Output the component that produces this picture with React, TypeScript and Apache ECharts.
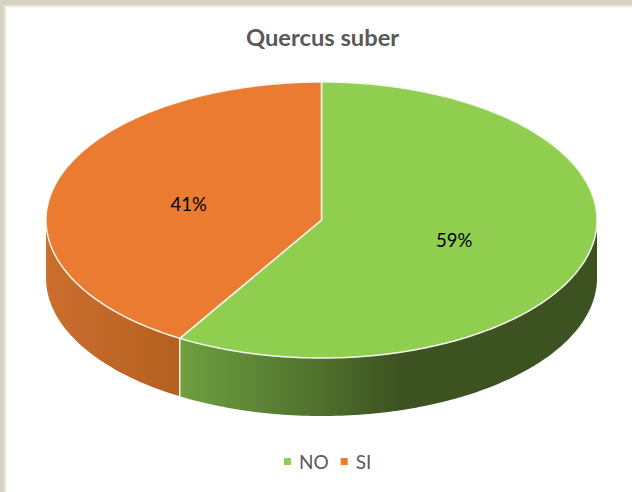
import React, { useEffect, useRef } from "react";
import * as echarts from "echarts";

const chartTitle = "Quercus suber";
const categories = ["NO", "SI"];
const sliceValues = [58.6, 41.4];
const topColors = ["#8FCE4F", "#EB7B30"];
const wallStops = [
  [
    { at: 180, color: "#6E9F40" },
    { at: 320, color: "#50702D" },
    { at: 400, color: "#3C5221" },
    { at: 597, color: "#3C5221" },
  ],
  [
    { at: 46, color: "#CB6E2E" },
    { at: 180, color: "#B46020" },
  ],
];

const CX = 321.5;
const CY = 220;
const RX = 275.5;
const RY = 138;
const DEPTH = 58;

const total = sliceValues.reduce((a, b) => a + b, 0);
const pointAt = (deg: number, dy = 0, k = 1): number[] => {
  const r = (deg * Math.PI) / 180;
  return [CX + RX * k * Math.sin(r), CY - RY * k * Math.cos(r) + dy];
};
const arc = (from: number, to: number, dy = 0): number[][] => {
  const out: number[][] = [];
  const n = Math.max(1, Math.ceil(to - from));
  for (let i = 0; i <= n; i++) out.push(pointAt(from + ((to - from) * i) / n, dy));
  return out;
};

const makeSeries = (index: number) => {
  const before = sliceValues.slice(0, index).reduce((a, b) => a + b, 0);
  const start = (before / total) * 360;
  const end = ((before + sliceValues[index]) / total) * 360;
  const mid = (start + end) / 2;
  return {
    type: "custom",
    name: categories[index],
    coordinateSystem: "none",
    itemStyle: { color: topColors[index] },
    data: [{ name: categories[index], value: sliceValues[index] }],
    silent: true,
    renderItem: () => {
      const children: any[] = [];
      const wallFrom = Math.max(start, 90);
      const wallTo = Math.min(end, 270);
      if (wallTo > wallFrom) {
        const stops = wallStops[index];
        const x0 = stops[0].at;
        const x1 = stops[stops.length - 1].at;
        children.push({
          type: "polygon",
          shape: { points: [...arc(wallFrom, wallTo), ...arc(wallFrom, wallTo, DEPTH).reverse()] },
          style: {
            fill: new echarts.graphic.LinearGradient(
              x0, 0, x1, 0,
              stops.map((s) => ({ offset: (s.at - x0) / (x1 - x0), color: s.color })),
              true
            ),
          },
        });
      }
      if (start > 90 && start < 270) {
        const a = pointAt(start);
        children.push({
          type: "line",
          z2: 5,
          shape: { x1: a[0], y1: a[1], x2: a[0], y2: a[1] + DEPTH },
          style: { stroke: "#F2F2EC", lineWidth: 1.5 },
        });
      }
      children.push({
        type: "polygon",
        z2: 6,
        shape: { points: [[CX, CY], ...arc(start, end)] },
        style: { fill: topColors[index], stroke: "#F4F6EE", lineWidth: 1.5, lineJoin: "round" },
      });
      const lp = pointAt(mid, 2, 0.5);
      children.push({
        type: "text",
        z2: 7,
        x: lp[0],
        y: lp[1],
        style: {
          text: `${Math.round((sliceValues[index] / total) * 100)}%`,
          fill: "#000000",
          font: "18.5px Lato",
          align: "center",
          verticalAlign: "middle",
        },
      });
      return { type: "group", children };
    },
  };
};

export default function App() {
  const ref = useRef<HTMLDivElement>(null);
  useEffect(() => {
    const chart = echarts.init(ref.current!, null, { renderer: "svg" });
    chart.setOption({
      animation: false,
      backgroundColor: "#D6D3C2",
      title: {
        text: chartTitle,
        left: 241,
        top: 20,
        textStyle: { fontFamily: "Lato", fontSize: 23.7, fontWeight: "bold", color: "#595959" },
      },
      legend: {
        data: categories,
        left: 279,
        top: 447,
        icon: "rect",
        itemWidth: 7,
        itemHeight: 7,
        itemGap: 12,
        textStyle: { fontFamily: "Lato", fontSize: 19, color: "#595959", padding: [0, 0, 0, 3] },
      },
      graphic: [
        { type: "rect", z: -10, shape: { x: 4, y: 5, width: 628, height: 487 }, style: { fill: "#E6E6E2" } },
        { type: "rect", z: -9, shape: { x: 6, y: 7, width: 626, height: 485 }, style: { fill: "#FFFFFF" } },
      ],
      series: categories.map((_, i) => makeSeries(i)),
    });
    return () => chart.dispose();
  }, []);
  return <div ref={ref} style={{ position: "fixed", left: 0, top: 0, width: 632, height: 492 }} />;
}
